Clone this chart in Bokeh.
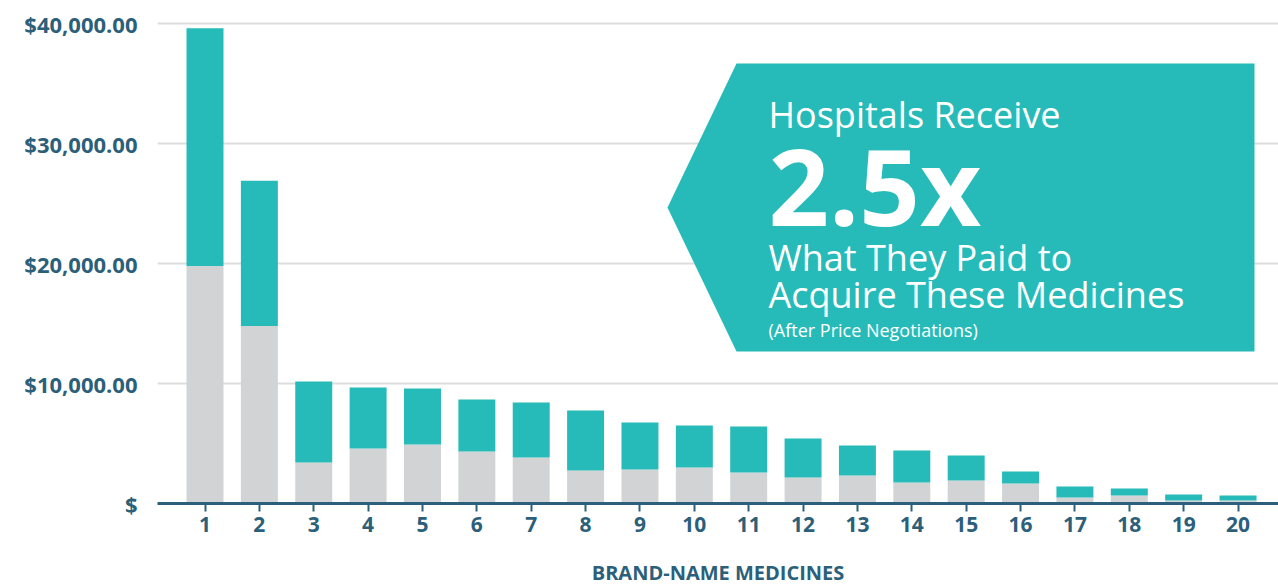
from bokeh.plotting import figure
from bokeh.models import FixedTicker, Label, Range1d, ColumnDataSource
from bokeh.embed import file_html
from bokeh.resources import INLINE

# ---- data ----
medicine_labels = [str(i) for i in range(1, 21)]
medicine_pos = list(range(1, 21))
acquisition_cost = [19800, 14800, 3420, 4580, 4920, 4330, 3830, 2750, 2830, 3000,
                    2580, 2170, 2330, 1750, 1920, 1670, 500, 670, 250, 250]
total_received = [39600, 26900, 10170, 9670, 9580, 8670, 8420, 7750, 6750, 6500,
                  6420, 5420, 4830, 4420, 4000, 2670, 1420, 1250, 750, 670]
y_tick_values = [0, 10000, 20000, 30000, 40000]
y_tick_labels = ["$", "$10,000.00", "$20,000.00", "$30,000.00", "$40,000.00"]

markup = [t - a for t, a in zip(total_received, acquisition_cost)]

TEAL = "#26BBB9"
GRAY = "#D1D3D4"
NAVY = "#2C5F7A"

W, H = 1278, 588
# frame in canvas pixels
FL, FR, FT, FB = 157, 1278, 10, 503
X0 = 1 - (204.5 - FL) / 54.37
X1 = X0 + (FR - FL) / 54.37
Y0 = 0
Y1 = (FB - FT) / 12 * 1000


def dx(sx):
    return X0 + (sx - FL) / (FR - FL) * (X1 - X0)


def dy(sy):
    return Y0 + (FB - sy) / (FB - FT) * (Y1 - Y0)


p = figure(width=W, height=H, output_backend="svg", toolbar_location=None,
           x_range=Range1d(X0, X1), y_range=Range1d(Y0, Y1),
           min_border_left=FL, min_border_right=W - FR,
           min_border_top=FT, min_border_bottom=H - FB)
p.outline_line_color = None
p.background_fill_color = "white"
p.border_fill_color = "white"

src = ColumnDataSource(dict(x=medicine_pos, acq=acquisition_cost, mk=markup))
p.vbar_stack(["acq", "mk"], x="x", width=0.68, color=[GRAY, TEAL],
             line_color=None, source=src)

# grid
p.xgrid.visible = False
p.ygrid.ticker = FixedTicker(ticks=y_tick_values[1:])
p.ygrid.grid_line_color = "#DDDDDD"
p.ygrid.grid_line_width = 2

# x axis
xa = p.xaxis[0]
xa.ticker = FixedTicker(ticks=medicine_pos)
xa.major_label_overrides = {v: l for v, l in zip(medicine_pos, medicine_labels)}
xa.axis_line_color = NAVY
xa.axis_line_width = 3
xa.major_tick_line_color = NAVY
xa.major_tick_line_width = 2
xa.major_tick_in = 0
xa.major_tick_out = 8
xa.minor_tick_line_color = None
xa.major_label_standoff = 5
xa.major_label_text_font = "Open Sans"
xa.major_label_text_font_style = "bold"
xa.major_label_text_font_size = "21px"
xa.major_label_text_color = NAVY
xa.axis_label = "BRAND-NAME MEDICINES"
xa.axis_label_standoff = 24
xa.axis_label_text_font = "Open Sans"
xa.axis_label_text_font_style = "bold"
xa.axis_label_text_font_size = "20px"
xa.axis_label_text_color = NAVY

# y axis
ya = p.yaxis[0]
ya.ticker = FixedTicker(ticks=y_tick_values)
ya.major_label_overrides = {v: l for v, l in zip(y_tick_values, y_tick_labels)}
ya.axis_line_color = None
ya.major_tick_line_color = None
ya.minor_tick_line_color = None
ya.major_tick_out = 0
ya.major_tick_in = 0
ya.major_label_standoff = 20
ya.major_label_text_font = "Open Sans"
ya.major_label_text_font_style = "bold"
ya.major_label_text_font_size = "22px"
ya.major_label_text_color = NAVY

# callout
bx = [dx(736), dx(1254), dx(1254), dx(736), dx(667)]
by = [dy(63), dy(63), dy(351), dy(351), dy(207)]
p.patch(bx, by, fill_color=TEAL, line_color=None)

callout = [
    ("Hospitals Receive", 128, 36, "normal"),
    ("2.5x", 227, 106, "bold"),
    ("What They Paid to", 271, 36, "normal"),
    ("Acquire These Medicines", 308, 36, "normal"),
    ("(After Price Negotiations)", 337, 18, "normal"),
]
for txt, base, size, style in callout:
    p.add_layout(Label(x=dx(768), y=dy(base - 0.4 * size), text=txt,
                       text_align="left", text_baseline="alphabetic",
                       text_font="Open Sans", text_font_style=style,
                       text_font_size=f"{size}px", text_color="white"))

open("out.html", "w").write(file_html(p, INLINE))
